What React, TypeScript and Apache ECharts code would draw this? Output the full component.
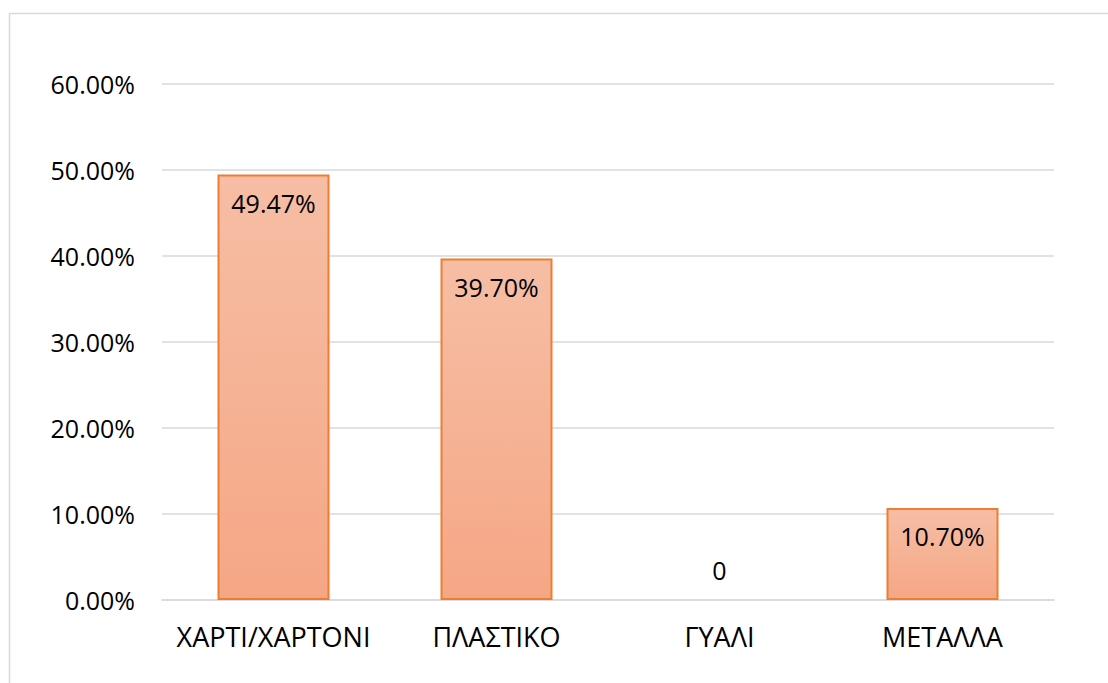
import React, { useEffect, useRef } from "react";
import * as echarts from "echarts";

const categories = ["ΧΑΡΤΙ/ΧΑΡΤΟΝΙ", "ΠΛΑΣΤΙΚΟ", "ΓΥΑΛΙ", "ΜΕΤΑΛΛΑ"];
const values = [49.47, 39.7, 0, 10.7];
const yTicks = { min: 0, max: 60, interval: 10 };

const FONT = "'Open Sans', 'Noto Sans', sans-serif";

export default function App() {
  const ref = useRef<HTMLDivElement>(null);
  useEffect(() => {
    if (!ref.current) return;
    const chart = echarts.init(ref.current, null, { renderer: "svg" });
    const data = values.map((v) =>
      v === 0
        ? {
            value: v,
            itemStyle: { borderWidth: 0, color: "rgba(0,0,0,0)" },
            label: { position: "top", distance: 18 },
          }
        : { value: v }
    );
    chart.setOption({
      animation: false,
      backgroundColor: "#fff",
      textStyle: { fontFamily: FONT },
      graphic: [
        {
          type: "rect",
          shape: { x: 9.5, y: 13.5, width: 1300, height: 900 },
          style: { fill: "none", stroke: "#d9d9d9", lineWidth: 1.5 },
          silent: true,
        },
      ],
      grid: { left: 162, right: 54, top: 84, bottom: 83 },
      xAxis: {
        type: "category",
        data: categories,
        axisLine: { lineStyle: { color: "#d9d9d9", width: 1.5 } },
        axisTick: { show: false },
        axisLabel: {
          color: "#000",
          fontSize: 27,
          fontFamily: FONT,
          margin: 23,
          interval: 0,
          hideOverlap: false,
        },
      },
      yAxis: {
        type: "value",
        min: yTicks.min,
        max: yTicks.max,
        interval: yTicks.interval,
        axisLine: { show: false },
        axisTick: { show: false },
        splitLine: { lineStyle: { color: "#d9d9d9", width: 1.5 } },
        axisLabel: {
          color: "#000",
          fontSize: 25,
          fontFamily: FONT,
          margin: 27,
          formatter: (v: number) => v.toFixed(2) + "%",
        },
      },
      series: [
        {
          type: "bar",
          data,
          barWidth: 112,
          itemStyle: {
            color: new echarts.graphic.LinearGradient(0, 0, 0, 1, [
              { offset: 0, color: "#f6bea5" },
              { offset: 1, color: "#f5a785" },
            ]),
            borderColor: "#ed7d31",
            borderWidth: 2,
          },
          label: {
            show: true,
            position: "insideTop",
            distance: 16,
            color: "#000",
            fontSize: 25,
            fontFamily: FONT,
            formatter: (p: any) => (p.value === 0 ? "0" : p.value.toFixed(2) + "%"),
          },
        },
      ],
    });
    return () => chart.dispose();
  }, []);
  return (
    <div
      ref={ref}
      style={{ position: "absolute", left: 0, top: 0, width: 1108, height: 683 }}
    />
  );
}
